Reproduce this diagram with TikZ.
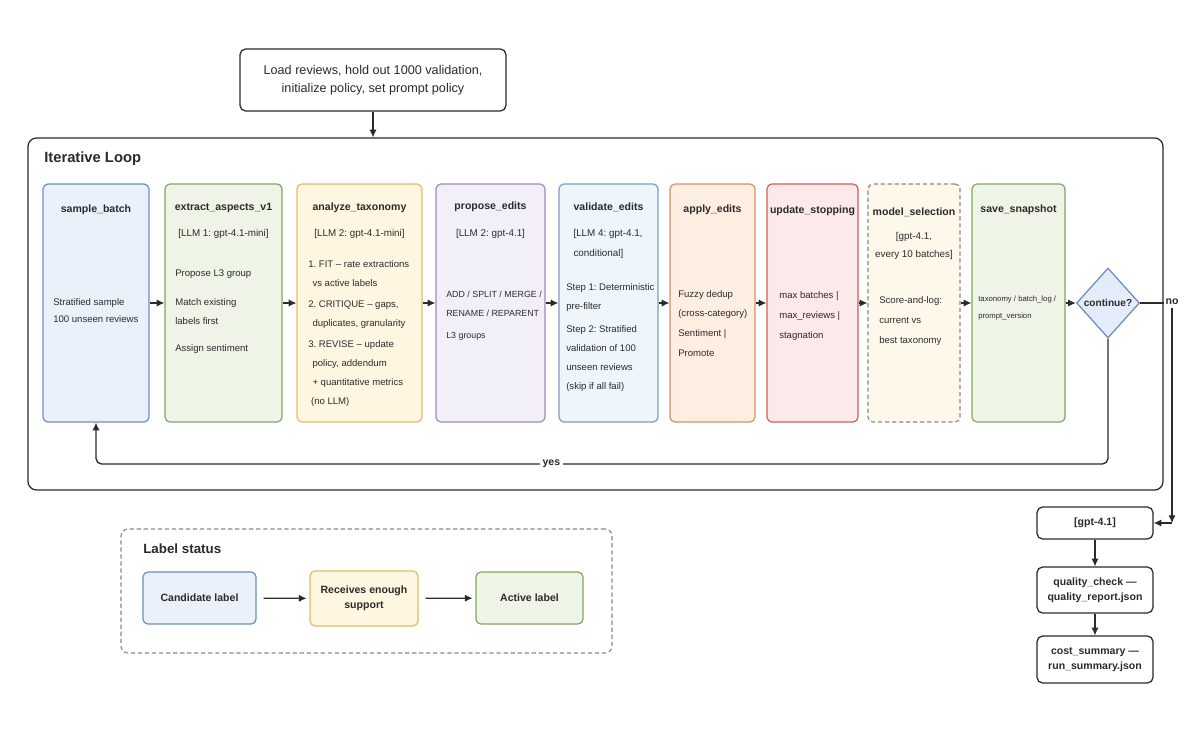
\documentclass[tikz,border=0pt]{standalone}
\usepackage{fontspec}
\setmainfont{Liberation Sans}
\usetikzlibrary{shapes.geometric,arrows.meta,positioning,calc,fit}

\definecolor{inkC}{HTML}{2B2B2B}
\definecolor{blueF}{HTML}{EAF1FB}   \definecolor{blueD}{HTML}{6C8EBF}
\definecolor{greenF}{HTML}{EEF4E6}  \definecolor{greenD}{HTML}{82A366}
\definecolor{yellowF}{HTML}{FFF6E2} \definecolor{yellowD}{HTML}{E2BC5E}
\definecolor{purpleF}{HTML}{F3EFFA} \definecolor{purpleD}{HTML}{A186C2}
\definecolor{cyanF}{HTML}{EEF5FB}   \definecolor{cyanD}{HTML}{7B9FBA}
\definecolor{orangeF}{HTML}{FDEEE2} \definecolor{orangeD}{HTML}{D98F69}
\definecolor{redF}{HTML}{FCE9E9}    \definecolor{redD}{HTML}{D35D5B}
\definecolor{creamF}{HTML}{FDF8EA}  \definecolor{creamD}{HTML}{8A8A8A}
\definecolor{diaF}{HTML}{E4ECF9}

\tikzset{
  stage/.style={draw=#1D, fill=#1F, rounded corners=3.5pt, line width=0.85pt, inner sep=0pt},
  frame/.style={draw=inkC, fill=white, rounded corners=4pt, line width=0.9pt, inner sep=0pt},
  boxtxt/.style={align=center, text=inkC, font=\bfseries\fontsize{7.5}{11}\selectfont},
  ttl/.style={text=inkC, font=\bfseries\fontsize{7.5}{9}\selectfont},
  sub/.style={text=inkC, align=center, font=\fontsize{7}{14}\selectfont},
  body/.style={text=inkC, align=left, anchor=north west, inner sep=0pt, font=\fontsize{6.8}{13.5}\selectfont},
  head/.style={text=inkC, anchor=west, inner sep=0pt, font=\bfseries\fontsize{10.5}{12}\selectfont},
  lbl/.style={text=inkC, inner sep=2pt, font=\bfseries\fontsize{7.5}{9}\selectfont},
  flow/.style={-{Latex[length=5.5pt, width=5.2pt]}, draw=inkC, line width=0.95pt},
  decision/.style={diamond, draw=blueD, fill=diaF, line width=0.9pt, aspect=0.9, inner sep=0pt,
    minimum width=1.575cm, minimum height=1.75cm, text=inkC, font=\bfseries\fontsize{7.2}{9}\selectfont}
}

\begin{document}
\frenchspacing
\begin{tikzpicture}[x=0.025cm, y=-0.025cm]
  \useasboundingbox[fill=white] (0,0) rectangle (1200,731);

  % setup and outer loop
  \node[frame, fit={(240,49) (506,111)}] (init) {};
  \node[boxtxt, font=\fontsize{9}{12.8}\selectfont] (initL) at (init) {Load reviews, hold out 1000 validation,\\initialize policy, set prompt policy};
  \node[frame, rounded corners=6pt, fit={(28,138) (1163,490)}] (loop) {};
  \node[head] (loopT) at (44,159) {Iterative Loop};
  \draw[flow] (init) -- (init |- loop.north);

  % stages
  \node[stage=blue, fit={(43,184) (149,422)}] (sb) {};
  \node[stage=green, fit={(165,184) (282,422)}] (ea) {};
  \node[stage=yellow, fit={(297,184) (422,422)}] (az) {};
  \node[stage=purple, fit={(436,184) (545,422)}] (pe) {};
  \node[stage=cyan, fit={(559,184) (658,422)}] (ve) {};
  \node[stage=orange, fit={(670,184) (755,422)}] (ap) {};
  \node[stage=red, fit={(767,184) (858,422)}] (us) {};
  \node[stage=cream, dash pattern=on 3pt off 2pt, fit={(868,184) (960,422)}] (ms) {};
  \node[stage=green, fit={(972,184) (1065,422)}] (ss) {};
  \node[decision] (cont) at (1108,303) {continue?};

  \node[ttl] (sbT) at (96,210) {sample\_batch};
  \node[ttl] (eaT) at (223.5,208) {extract\_aspects\_v1};
  \node[ttl] (azT) at (359.5,208) {analyze\_taxonomy};
  \node[ttl] (peT) at (490.5,207) {propose\_edits};
  \node[ttl] (veT) at (608.5,207) {validate\_edits};
  \node[ttl] (apT) at (712.5,210) {apply\_edits};
  \node[ttl] (usT) at (812.5,211) {update\_stopping};
  \node[ttl] (msT) at (914,212) {model\_selection};
  \node[ttl] (ssT) at (1018.5,210) {save\_snapshot};

  \node[sub] (eaS) at (223.5,234) {[LLM 1: gpt-4.1-mini]};
  \node[sub] (azS) at (359.5,234) {[LLM 2: gpt-4.1-mini]};
  \node[sub] (peS) at (490.5,234) {[LLM 2: gpt-4.1]};
  \node[sub, align=left] (veS) at (608,244) {[LLM 4: gpt-4.1,\\conditional]};
  \node[sub, font=\fontsize{7}{12.8}\selectfont] (msS) at (914,246) {[gpt-4.1,\\every 10 batches]};

  \node[body, font=\fontsize{6.8}{12}\selectfont] (sbB) at (53,298) {Stratified sample\\100 unseen reviews};
  \node[body] (eaB) at (175,270) {Propose L3 group\\[7pt]Match existing\\labels first\\[5.5pt]Assign sentiment};
  \node[body] (azB) at (308,260) {1. FIT -- rate extractions\\\hspace*{3pt}vs active labels\\[1.5pt]2. CRITIQUE -- gaps,\\\hspace*{3pt}duplicates, granularity\\[1.5pt]3. REVISE -- update\\\hspace*{3pt}policy, addendum\\\hspace*{3pt}+ quantitative metrics\\\hspace*{2pt}(no LLM)};
  \node[body, font=\fontsize{6.3}{13.5}\selectfont] (peB) at (446,291) {ADD / SPLIT / MERGE /\\RENAME / REPARENT\\[2pt]L3 groups};
  \node[body] (veB) at (566,283) {Step 1: Deterministic\\pre-filter\\[3pt]Step 2: Stratified\\validation of 100\\unseen reviews\\(skip if all fail)};
  \node[body] (apB) at (678,290) {Fuzzy dedup\\(cross-category)\\[1pt]Sentiment |\\[1pt]Promote};
  \node[body] (usB) at (779,291) {max batches |\\[1pt]max\_reviews |\\[1pt]stagnation};
  \node[body] (msB) at (879,296) {Score-and-log:\\[1pt]current vs\\[1pt]best taxonomy};
  \node[body, font=\fontsize{5.5}{12}\selectfont] (ssB) at (978,296) {taxonomy / batch\_log /\\prompt\_version};

  \foreach \a/\b in {sb/ea, ea/az, az/pe, pe/ve, ve/ap, ap/us, us/ms, ms/ss, ss/cont}
    \draw[flow] (\a.east) -- (\b.west);

  % yes / no branches
  \coordinate (yesR) at (1108,464);
  \coordinate (yesL) at (96,464);
  \draw[flow, rounded corners=4pt] (cont.south) -- (yesR) -- node[lbl, fill=white, pos=0.55] (yes) {yes} (yesL) -- (sb.south);
  \draw[draw=inkC, line width=0.9pt] (cont.east) -- (cont.east -| loop.east);
  \node[lbl] (no) at (1172,302) {no};

  % final steps
  \node[frame, fit={(1037,507) (1153,539)}] (gpt) {};
  \node[frame, fit={(1037,567) (1153,613)}] (qc) {};
  \node[frame, fit={(1037,636) (1153,683)}] (cs) {};
  \node[boxtxt] (gptL) at (gpt) {[gpt-4.1]};
  \node[boxtxt] (qcL) at (qc) {quality\_check ---\\quality\_report.json};
  \node[boxtxt] (csL) at (cs) {cost\_summary ---\\run\_summary.json};
  \coordinate (noC) at (1172,523);
  \draw[flow] (no.south) -- (noC);
  \draw[flow] (noC) -- (gpt.east);
  \draw[flow] (gpt) -- (qc);
  \draw[flow] (qc) -- (cs);

  % label status legend
  \node[draw=creamD, rounded corners=5pt, line width=0.8pt, dash pattern=on 3pt off 2pt, inner sep=0pt, fit={(121,529) (612,653)}] (status) {};
  \node[head, font=\bfseries\fontsize{9.5}{11}\selectfont] (statusT) at (143,549) {Label status};
  \node[stage=blue, fit={(143,572) (256,624)}] (cand) {};
  \node[stage=yellow, fit={(310,571) (418,626)}] (recv) {};
  \node[stage=green, fit={(476,572) (583,624)}] (act) {};
  \node[boxtxt] (candL) at (cand) {Candidate label};
  \node[boxtxt] (recvL) at (recv) {Receives enough\\support};
  \node[boxtxt] (actL) at (act) {Active label};
  \draw[flow, shorten <=5pt, shorten >=2pt] (cand) -- (recv);
  \draw[flow, shorten <=5pt, shorten >=2pt] (recv) -- (act);
\end{tikzpicture}
\end{document}
